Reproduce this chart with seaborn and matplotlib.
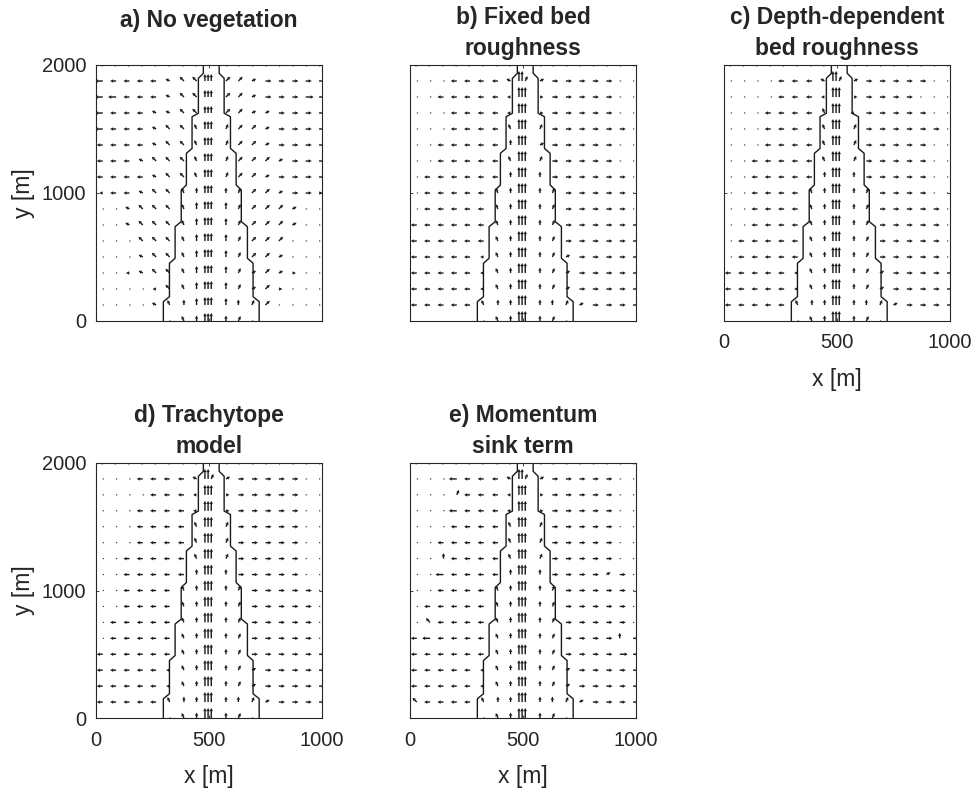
#%% imports
import numpy as np
import pandas as pd
import matplotlib
matplotlib.use("Agg")
import matplotlib.pyplot as plt
import seaborn as sns

#%% data

# grid of the velocity vectors (m)
x_cols = [30, 89, 148, 207, 266, 326, 389, 445, 482, 496, 510, 575,
          630, 690, 750, 809, 869, 928, 987]
y_rows = [2000, 1875, 1750, 1625, 1500, 1375, 1250, 1125, 1000,
          875, 750, 625, 500, 375, 250, 125, 0]

# stepped channel banks
bank_y = [2000, 1935, 1896, 1623, 1596, 1348, 1310, 1063, 1023,
          776, 737, 490, 451, 190, 151, 0]
bank_left = [475, 475, 453, 453, 425, 425, 400, 400, 377,
             377, 350, 350, 325, 325, 298, 298]
bank_right = [545, 545, 567, 567, 595, 595, 620, 620, 643,
              643, 670, 670, 695, 695, 722, 722]

# arrow symbols seen in the plots -> (u, v) as drawn length in pixels
arrow_codes = {
    ".": (1.6, 0.0),
    "l": (-3.5, 0.0), "L": (-6.0, 0.0), "M": (-8.0, 0.0),
    "r": (3.5, 0.0), "R": (6.0, 0.0), "N": (8.0, 0.0),
    "q": (-4.2, 2.2), "Q": (-4.3, 4.3), "k": (-2.2, 5.0),
    "p": (4.2, 2.2), "P": (4.3, 4.3), "d": (2.2, 5.0),
    "u": (0.0, 5.5), "U": (0.0, 7.0), "V": (0.0, 8.0), "A": (0.0, 10.0),
}

# one string per row (top to bottom), one symbol per column
panel_a = [
    "llllllll|   |rrrrrrrr",
    "MLLLLqQQ|UUU|PPpRRRRN",
    "MMLLLqQQ|UUU|PPpRRRNN",
    "MLLLqqQQ|UUU|PPppRRRN",
    "MLLLqQQk|VVV|dPPpRRRN",
    "LLLLqQQk|VVV|dPPpRRRR",
    "LLLqQQQk|VVV|dPPPpRRR",
    "LLLLqQQk|VVV|dPPpRRRR",
    "lLLqQQku|VVV|udPPpRRr",
    "..qQQQkU|VVV|UdPPPp..",
    "..qQQQkU|VVV|UdPPPp..",
    "...QQQkU|VVV|UdPPP...",
    "...qQQkU|VVV|UdPPp...",
    "..lqQQkU|VVV|UdpPpr..",
    "....lQkU|VVV|UdpPr...",
    "....qkuU|VVV|UudP....",
    "     .ku|VVV|ud.     ",
]
panel_b = [
    "llllllll|   |rrrrrrrr",
    "...LLLLq|AAd|pRRRRR..",
    "..LLLLLl|AAA|rRRRRR..",
    "...LLLLl|AAA|rRRRRR..",
    "...LLLLk|AAA|dRRRRRR.",
    "..LLLLLu|AAA|pRRRRR..",
    "..LLLLLk|AAA|dRRRRR..",
    ".LLLLLLu|AAA|uRRRRRR.",
    ".LLLLLku|AAA|udRRRRR.",
    ".LLLLLku|AAA|udRRRRR.",
    "LLLLLLku|AAA|udRRRRRR",
    "LLLLLLku|AAA|udRRRRRR",
    "LLLLLlku|AAA|udpRRRRR",
    "LLLLLlku|AAA|udpRRRRR",
    "LLLLLlku|AAA|udpRRRRR",
    "LLLLLkuu|AAA|uudpRRRR",
    "     .ku|AAA|ud.     ",
]
panel_c = [
    "llllllll|   |rrrrrrrr",
    "....LLLq|AAd|pRRRRR..",
    "....LLLl|AAA|rRRRR...",
    "...LLLLk|AAA|lRRRRR..",
    "...LLLLk|AAA|dRRRRRR.",
    "...LLLLk|AAA|dRRRRR..",
    "..LLLLLk|AAA|dRRRRR..",
    "..LLLLLu|AAA|uRRRRR..",
    "..LLLLku|AAA|udRRRR..",
    "..LLLLku|AAA|udRRRRR.",
    "..LLLLku|AAA|udRRRRR.",
    ".LLLLLku|AAA|udRRRRR.",
    ".LLLLLku|AAA|udRRRRR.",
    "LLLLLlku|AAA|udpRRRRR",
    "LLLLLlku|AAA|udpRRRRR",
    "LLLLLkuu|AAA|uudpRRRR",
    "     .ku|AAA|ud.     ",
]
panel_d = [
    "llllllll|   |rrrrrrrr",
    "...LLLLq|AAd|pRRRRR..",
    "....LLLl|AAA|rRRRRR..",
    "...LLLLl|AAA|rRRRRR..",
    "...LLLLk|AAA|dRRRRR..",
    "...LLLLk|AAA|dRRRRR..",
    "..LLLLLk|AAA|dRRRRR..",
    "..LLLLLu|AAA|uRRRRR..",
    "..LLLLku|AAA|udRRRRR.",
    "..LLLLku|AAA|udRRRRR.",
    ".LLLLLku|AAA|udRRRRR.",
    ".LLLLLku|AAA|udRRRRR.",
    "LLLLLLku|AAA|udRRRRRR",
    "LLLLLlku|AAA|udpRRRRR",
    "LLLLLlku|AAA|udpRRRRR",
    "LLLLLkuu|AAA|uudpRRRR",
    "     .ku|AAA|ud.     ",
]
panel_e = [
    "llllllll|   |rrrrrrrr",
    "...MLLLq|AAd|pRRRRR..",
    "...dLLLl|AAA|rRRRRR..",
    "...MLLLl|AAA|rRRRRR..",
    "...LLLLk|AAA|dRRRRR..",
    "..LLLLLk|AAA|dRRRRR..",
    "..uLLLLk|AAA|dRRRRR..",
    "..MLLLLu|AAA|uRRRRpR.",
    "..LLLLku|AAA|udRRRRR.",
    ".LLLLLku|AAA|udRRRRR.",
    ".QLLLLku|AAA|udRRRRR.",
    "LMLLLLku|AAA|udRRRRuR",
    "LLLLLLku|AAA|udRRRRNR",
    "LLLLLlku|AAA|udpRRRRN",
    "LLLLLlku|AAA|udpRRRRR",
    "QLLLLkuu|AAA|uudpRRRR",
    "     .ku|AAA|ud.     ",
]

titles = ["a) No vegetation", "b) Fixed bed\nroughness",
          "c) Depth-dependent\nbed roughness", "d) Trachytope\nmodel",
          "e) Momentum\nsink term"]
grids = [panel_a, panel_b, panel_c, panel_d, panel_e]


def field(rows):
    recs = []
    for y, row in zip(y_rows, rows):
        for x, c in zip(x_cols, row.replace("|", "")):
            if c != " ":
                u, v = arrow_codes[c]
                recs.append((x, y, u, v))
    return pd.DataFrame(recs, columns=["x", "y", "u", "v"])


#%% plot
sns.set_theme(style="ticks")
plt.rcParams["font.family"] = ["Liberation Sans", "DejaVu Sans"]
plt.rcParams.update({"xtick.direction": "in", "ytick.direction": "in",
                     "xtick.top": True, "ytick.right": True,
                     "axes.edgecolor": "#262626", "axes.linewidth": 0.8})

fig = plt.figure(figsize=(9.77, 7.92), dpi=100)
W, H = 977, 792
# axes boxes in pixels: left, top, right, bottom
boxes = [(96, 65, 322, 321), (410, 65, 636, 321), (724, 65, 950, 321),
         (96, 463, 322, 718), (410, 463, 636, 718)]
show_y = [True, False, False, True, False]
show_x = [False, False, True, True, True]

for i in range(5):
    l, t, r, b = boxes[i]
    ax = fig.add_axes([l / W, 1 - b / H, (r - l) / W, (b - t) / H])
    df = field(grids[i])
    ax.quiver(df.x, df.y, df.u, df.v, angles="uv", scale_units="inches",
              scale=100, width=0.0062, headwidth=2.6, headlength=2.4,
              headaxislength=2.1, color="k", pivot="tail")
    sns.lineplot(x=bank_left, y=bank_y, sort=False, estimator=None,
                 color="k", lw=1.0, ax=ax)
    sns.lineplot(x=bank_right, y=bank_y, sort=False, estimator=None,
                 color="k", lw=1.0, ax=ax)
    ax.set_xlim(0, 1000)
    ax.set_ylim(0, 2000)
    ax.set_xticks([0, 500, 1000])
    ax.set_yticks([0, 1000, 2000])
    ax.tick_params(length=2.5, width=0.6, labelsize=14.5,
                   colors="#262626", labelcolor="#262626")
    ax.tick_params(axis="x", pad=9)
    ax.tick_params(axis="y", pad=7)
    if not show_y[i]:
        ax.set_yticklabels([])
    else:
        ax.set_ylabel("y [m]", fontsize=16.5, color="#262626", labelpad=5)
    if not show_x[i]:
        ax.set_xticklabels([])
    else:
        ax.set_xlabel("x [m]", fontsize=16.5, color="#262626", labelpad=11)
    pad = 27 if i == 0 else 7
    ax.set_title(titles[i], fontsize=16.5, fontweight="bold", pad=pad,
                 linespacing=1.45)

fig.savefig("out.png", dpi=100)
